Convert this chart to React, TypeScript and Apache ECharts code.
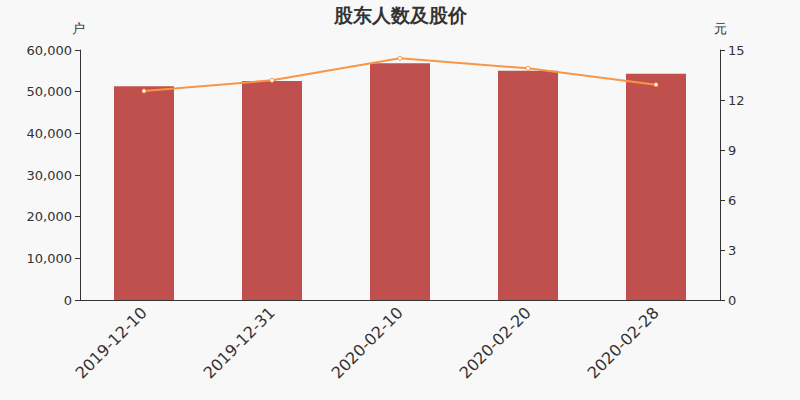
import { useEffect, useRef } from "react";
import * as echarts from "echarts";

const dates = ["2019-12-10", "2019-12-31", "2020-02-10", "2020-02-20", "2020-02-28"];
const holders = [51300, 52560, 56800, 55040, 54320];
const prices = [12.54, 13.18, 14.5, 13.9, 12.92];

export default function App(): JSX.Element {
  const rootRef = useRef<HTMLDivElement | null>(null);

  useEffect(() => {
    if (!rootRef.current) return undefined;
    const chart = echarts.init(rootRef.current, undefined, { renderer: "svg" });

    const axisText = { color: "#333", fontSize: 13 };
    const option: echarts.EChartsOption = {
      animation: false,
      backgroundColor: "#f8f8f8",
      textStyle: { fontFamily: "DejaVu Sans" },
      title: {
        text: "股东人数及股价",
        left: "center",
        top: 0,
        textStyle: { fontSize: 19, fontWeight: "bold", color: "#333" }
      },
      grid: { left: 80, right: 80, top: 50, bottom: 100 },
      xAxis: {
        type: "category",
        data: dates,
        axisLine: { lineStyle: { color: "#333" } },
        axisTick: { lineStyle: { color: "#333" } },
        axisLabel: { rotate: 45, fontSize: 16, color: "#333", margin: 10 }
      },
      yAxis: [
        {
          type: "value",
          name: "户",
          min: 0,
          max: 60000,
          interval: 10000,
          nameGap: 15,
          nameTextStyle: { color: "#333", fontSize: 13, padding: [0, 4, 0, 0] },
          axisLine: { show: true, lineStyle: { color: "#333" } },
          axisTick: { show: true, lineStyle: { color: "#333" } },
          splitLine: { show: false },
          axisLabel: {
            ...axisText,
            formatter: (v: number) => v.toLocaleString("en-US")
          }
        },
        {
          type: "value",
          name: "元",
          min: 0,
          max: 15,
          interval: 3,
          nameGap: 15,
          nameTextStyle: { color: "#333", fontSize: 13 },
          axisLine: { show: true, lineStyle: { color: "#333" } },
          axisTick: { show: true, lineStyle: { color: "#333" } },
          splitLine: { show: false },
          axisLabel: axisText
        }
      ],
      series: [
        {
          type: "bar",
          name: "股东人数",
          data: holders,
          barWidth: 60,
          itemStyle: { color: "#c0504d" }
        },
        {
          type: "line",
          name: "股价",
          yAxisIndex: 1,
          data: prices,
          symbol: "circle",
          symbolSize: 4,
          lineStyle: { color: "#f79646", width: 2 },
          itemStyle: { color: "#fff", borderColor: "#f79646", borderWidth: 1 }
        }
      ]
    };

    chart.setOption(option);
    return () => chart.dispose();
  }, []);

  return (
    <div
      ref={rootRef}
      style={{ position: "absolute", left: 0, top: 0, width: 800, height: 400 }}
    />
  );
}
